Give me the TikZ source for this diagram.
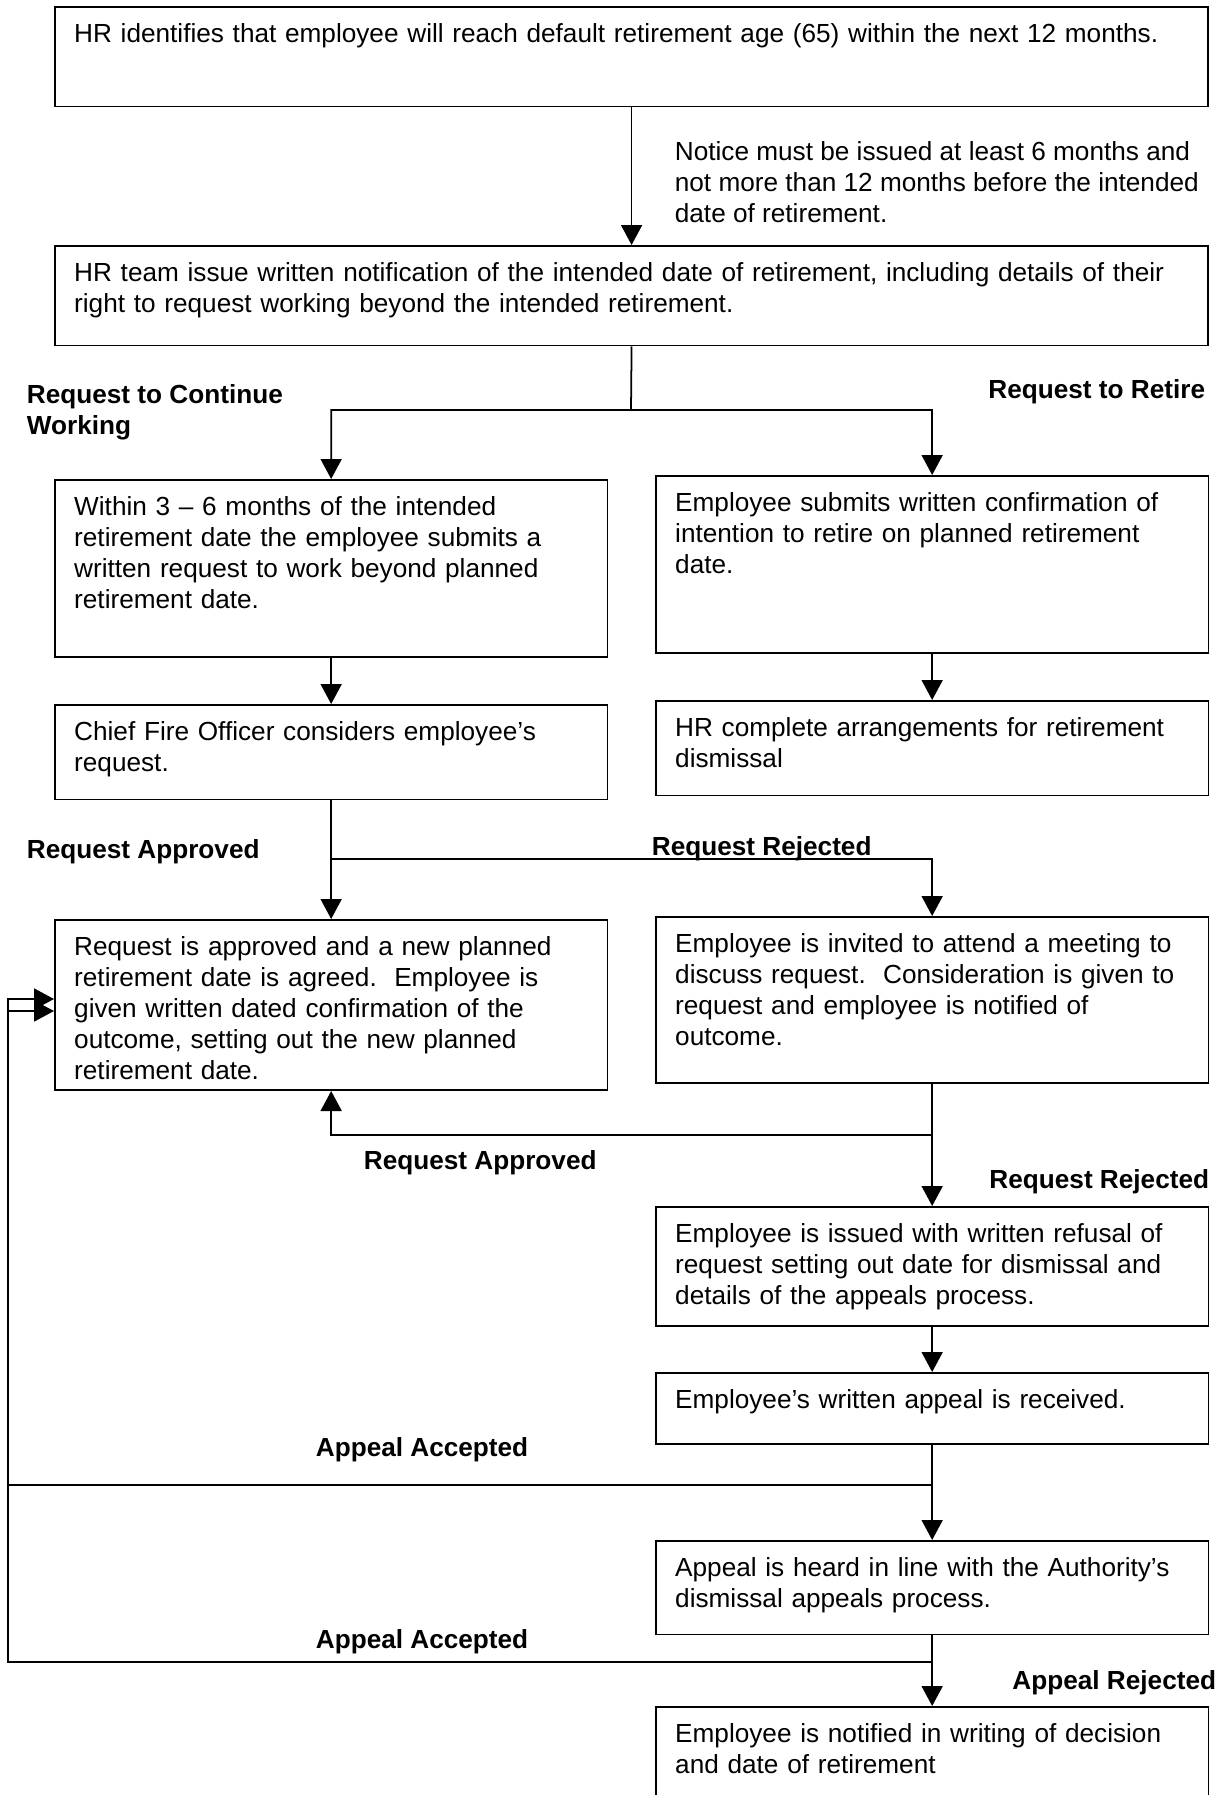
\documentclass[tikz,border=0pt]{standalone}
\usepackage{fontspec}
\setmainfont{Liberation Sans}
\usetikzlibrary{arrows.meta}
\tikzset{every picture/.style={line width=1pt}}
\tikzset{
  box/.style={draw, anchor=north west, align=left, inner xsep=11pt, inner ysep=9.5pt, text height=11pt},
  wide/.style={box, text width=22.30cm},
  half/.style={box, text width=10.28cm},
  lbl/.style={inner sep=0pt, font=\bfseries},
  arr/.style={-{Triangle[length=0.4cm,width=0.42cm]}}
}
\begin{document}
\fontsize{14.9}{17.6}\selectfont
\begin{tikzpicture}[x=0.02cm,y=-0.02cm]
\useasboundingbox (0,0) rectangle (1225,1795);
\node[wide, text depth=26.7pt] (b1) at (54,6)
  {HR identifies that employee will reach default retirement age (65) within the next 12 months.};
\node[anchor=base west, align=left, inner sep=0pt] (note) at (674,222)
  {Notice must be issued at least 6 months and\\not more than 12 months before the intended\\date of retirement.};
\node[wide, text depth=26.7pt] (b2) at (54,245)
  {HR team issue written notification of the intended date of retirement, including details of their\\
   right to request working beyond the intended retirement.};
\node[lbl, anchor=base west, align=left] (cont) at (26,434) {Request to Continue\\Working};
\node[lbl, anchor=base east] (retire) at (1206,398) {Request to Retire};
\node[half, text depth=70.9pt] (b3) at (54,479)
  {Within 3 -- 6 months of the intended\\retirement date the employee submits a\\
   written request to work beyond planned\\retirement date.};
\node[half, text depth=70.9pt] (b4) at (655,475)
  {Employee submits written confirmation of\\intention to retire on planned retirement\\date.};
\node[half, text depth=23.9pt] (b5) at (54,704)
  {Chief Fire Officer considers employee’s\\request.};
\node[half, text depth=23.9pt] (b6) at (655,700)
  {HR complete arrangements for retirement\\dismissal};
\node[lbl, anchor=base west] (appr1) at (26,858) {Request Approved};
\node[lbl, anchor=base west] (rej1) at (651,855) {Request Rejected};
\node[half, text depth=66.9pt] (b7) at (54,919)
  {Request is approved and a new planned\\retirement date is agreed.\ \ Employee is\\
   given written dated confirmation of the\\outcome, setting out the new planned\\retirement date.};
\node[half, text depth=64.7pt] (b8) at (655,916)
  {Employee is invited to attend a meeting to\\discuss request.\ \ Consideration is given to\\
   request and employee is notified of\\outcome.};
\node[lbl, anchor=base west] (appr2) at (363,1169) {Request Approved};
\node[lbl, anchor=base east] (rej2) at (1210,1188) {Request Rejected};
\node[half, text depth=38pt] (b9) at (655,1206)
  {Employee is issued with written refusal of\\request setting out date for dismissal and\\
   details of the appeals process.};
\node[half, text depth=10.3pt] (b10) at (655,1372)
  {Employee’s written appeal is received.};
\node[lbl, anchor=base west] (acc1) at (315,1456) {Appeal Accepted};
\node[half, text depth=23.3pt] (b11) at (655,1540)
  {Appeal is heard in line with the Authority’s\\dismissal appeals process.};
\node[lbl, anchor=base west] (acc2) at (315,1648) {Appeal Accepted};
\node[lbl, anchor=base east] (arej) at (1217,1689) {Appeal Rejected};
\node[half, text depth=46pt] (b12) at (655,1706)
  {Employee is notified in writing of decision\\and date of retirement};
% junctions
\coordinate (j1) at (631,410);
\coordinate (j2) at (330,859);
\coordinate (j3) at (931.5,1135);
\coordinate (j4) at (931.5,1485);
\coordinate (j5) at (931.5,1662);
\coordinate (lft) at (8,0);
% connectors
\draw[arr] (b1.south) -- (b2.north);
\draw[arr] (b2.south) -- (j1) -| (b3.north);
\draw[arr] (j1) -| (b4.north);
\draw[arr] (b3.south) -- (b5.north);
\draw[arr] (b4.south) -- (b6.north);
\draw[arr] (b5.south) -- (b7.north);
\draw[arr] (j2) -| (b8.north);
\draw[arr] (b8.south) -- (b9.north);
\draw[arr] (j3) -| (b7.south);
\draw[arr] (b9.south) -- (b10.north);
\draw[arr] (b10.south) -- (b11.north);
\draw[arr] (j4) -- (j4 -| lft) |- ([yshift=-0.12cm]b7.west);
\draw[arr] (b11.south) -- (b12.north);
\draw[arr] (j5) -- (j5 -| lft) |- ([yshift=0.12cm]b7.west);
\end{tikzpicture}
\end{document}
